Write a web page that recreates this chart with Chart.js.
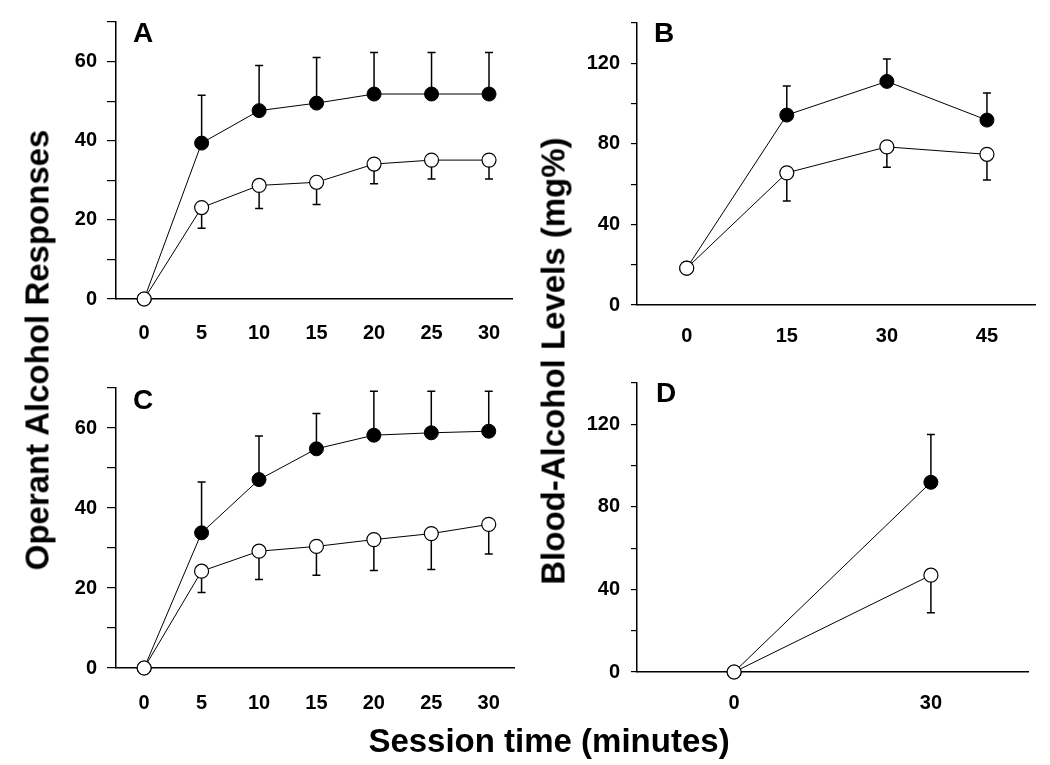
<!DOCTYPE html>
<html>
<head>
<meta charset="utf-8">
<script src="https://cdn.jsdelivr.net/npm/chart.js@4"></script>
<style>
  body { margin: 0; background: #fff; }
  #wrap { position: relative; width: 1050px; height: 765px; overflow: hidden; font-family: "Liberation Sans", Arial, sans-serif; font-weight: bold; color: #000; }
  canvas { position: absolute; }
  .lbl { position: absolute; line-height: 1; white-space: nowrap; }
  .panel { font-size: 28px; }
  .title { font-size: 33px; transform: translate(-50%, -50%); }
  .ytitle { font-size: 33px; transform: translate(-50%, -50%) rotate(-90deg); }
</style>
</head>
<body>
<div id="wrap">
  <canvas id="chartA" width="525" height="350" style="left:0;top:0"></canvas>
  <canvas id="chartB" width="525" height="350" style="left:525px;top:0"></canvas>
  <canvas id="chartC" width="525" height="405" style="left:0;top:360px"></canvas>
  <canvas id="chartD" width="525" height="405" style="left:525px;top:360px"></canvas>
  <div class="lbl panel" style="left:133px;top:19px">A</div>
  <div class="lbl panel" style="left:654px;top:19px">B</div>
  <div class="lbl panel" style="left:133px;top:386px">C</div>
  <div class="lbl panel" style="left:656px;top:379px">D</div>
  <div class="lbl ytitle" style="left:37px;top:350px">Operant Alcohol Responses</div>
  <div class="lbl ytitle" style="left:553px;top:361px">Blood-Alcohol Levels (mg%)</div>
  <div class="lbl title" style="left:549px;top:740px">Session time (minutes)</div>
</div>
<script>
// session time (minutes)
const timeAC = [0, 5, 10, 15, 20, 25, 30];
const timeB = [0, 15, 30, 45];
const timeD = [0, 30];

// panel A: operant responses
const aFilled = [0, 39.4, 47.6, 49.5, 51.8, 51.8, 51.8];
const aFilledErr = [0, 12.1, 11.4, 11.5, 10.5, 10.5, 10.5];
const aOpen = [0, 23.1, 28.7, 29.5, 34.1, 35.1, 35.1];
const aOpenErr = [0, 5.2, 5.8, 5.6, 5.0, 4.8, 4.8];

// panel B: blood alcohol
const bFilled = [18.3, 94.3, 111, 91.8];
const bFilledErr = [0, 14.4, 11.1, 13.5];
const bOpen = [18.3, 65.6, 78.5, 74.8];
const bOpenErr = [0, 14.0, 10.1, 12.7];

// panel C: operant responses
const cFilled = [0, 33.8, 47.1, 54.8, 58.2, 58.8, 59.2];
const cFilledErr = [0, 12.7, 10.9, 8.8, 11.0, 10.4, 10.0];
const cOpen = [0, 24.2, 29.2, 30.4, 32.1, 33.6, 35.9];
const cOpenErr = [0, 5.3, 7.1, 7.2, 7.7, 9.0, 7.4];

// panel D: blood alcohol
const dFilled = [0, 91.9];
const dFilledErr = [0, 23.2];
const dOpen = [0, 46.9];
const dOpenErr = [0, 18.2];

const FONT = { family: '"Liberation Sans", Arial, sans-serif', size: 20, weight: 'bold' };

// error bars: filled go up, open go down
const errorBars = {
    id: 'errorBars',
    beforeDatasetsDraw(chart) {
        const ctx = chart.ctx;
        const xs = chart.scales.x, ys = chart.scales.y;
        ctx.save();
        ctx.strokeStyle = '#000';
        ctx.lineWidth = 1.5;
        chart.data.datasets.forEach(ds => {
            ds.data.forEach((p, i) => {
                const e = ds.err[i];
                if (!e) return;
                const x = xs.getPixelForValue(p.x);
                const y0 = ys.getPixelForValue(p.y);
                const y1 = ys.getPixelForValue(p.y + ds.dir * e);
                ctx.beginPath();
                ctx.moveTo(x, y0);
                ctx.lineTo(x, y1);
                ctx.moveTo(x - 4, y1);
                ctx.lineTo(x + 4, y1);
                ctx.stroke();
            });
        });
        ctx.restore();
    }
};

function pts(xs, ys) {
    return xs.map((x, i) => ({ x: x, y: ys[i] }));
}

function panel(id, o) {
    const ctx = document.getElementById(id).getContext('2d');
    new Chart(ctx, {
        type: 'line',
        data: {
            datasets: [{
                data: pts(o.time, o.open),
                err: o.openErr,
                dir: -1,
                borderColor: '#000',
                borderWidth: 1,
                pointRadius: 7,
                pointBackgroundColor: '#fff',
                pointBorderColor: '#000',
                pointBorderWidth: 1.2,
                tension: 0,
                clip: false
            }, {
                data: pts(o.time, o.filled),
                err: o.filledErr,
                dir: 1,
                borderColor: '#000',
                borderWidth: 1,
                pointRadius: 7,
                pointBackgroundColor: '#000',
                pointBorderColor: '#000',
                pointBorderWidth: 1,
                tension: 0,
                clip: false
            }]
        },
        options: {
            responsive: false,
            animation: false,
            events: [],
            layout: { padding: { top: o.padTop, right: o.padRight, left: 0, bottom: 0 } },
            plugins: { legend: { display: false }, tooltip: { enabled: false } },
            scales: {
                x: {
                    type: 'linear',
                    min: o.xMin,
                    max: o.xMax,
                    afterFit: s => { s.height = o.xH; },
                    afterBuildTicks: s => { s.ticks = o.time.map(v => ({ value: v })); },
                    grid: { display: false, drawTicks: false, tickLength: 0 },
                    border: { display: true, color: '#000', width: 1.5 },
                    ticks: { color: '#000', font: FONT, padding: o.xPad, maxRotation: 0, autoSkip: false }
                },
                y: {
                    min: 0,
                    max: o.yMax,
                    afterFit: s => { s.width = o.yW; },
                    grid: { display: true, drawOnChartArea: false, drawTicks: true, tickLength: o.tickLen, color: '#000', lineWidth: 1.2 },
                    border: { display: true, color: '#000', width: 1.5 },
                    ticks: {
                        stepSize: o.minor,
                        color: '#000',
                        font: FONT,
                        padding: o.yPad,
                        callback: v => (v % o.major === 0 ? v : '')
                    }
                }
            }
        },
        plugins: [errorBars]
    });
}

panel('chartA', { time: timeAC, filled: aFilled, filledErr: aFilledErr, open: aOpen, openErr: aOpenErr,
    xMin: -2.45, xMax: 32, yMax: 70, minor: 10, major: 20, padTop: 19, padRight: 13, yW: 116, xH: 51, xPad: 22, tickLen: 9, yPad: 10 });
panel('chartB', { time: timeB, filled: bFilled, filledErr: bFilledErr, open: bOpen, openErr: bOpenErr,
    xMin: -7.45, xMax: 52.2, yMax: 140, minor: 20, major: 40, padTop: 19, padRight: 15, yW: 112, xH: 45, xPad: 19, tickLen: 6, yPad: 11 });
panel('chartC', { time: timeAC, filled: cFilled, filledErr: cFilledErr, open: cOpen, openErr: cOpenErr,
    xMin: -2.45, xMax: 32.2, yMax: 70, minor: 10, major: 20, padTop: 28, padRight: 11, yW: 116, xH: 97, xPad: 23, tickLen: 9, yPad: 10 });
panel('chartD', { time: timeD, filled: dFilled, filledErr: dFilledErr, open: dOpen, openErr: dOpenErr,
    xMin: -14.8, xMax: 44.8, yMax: 140, minor: 20, major: 40, padTop: 17, padRight: 22, yW: 112, xH: 93, xPad: 19, tickLen: 6, yPad: 11 });
</script>
</body>
</html>
